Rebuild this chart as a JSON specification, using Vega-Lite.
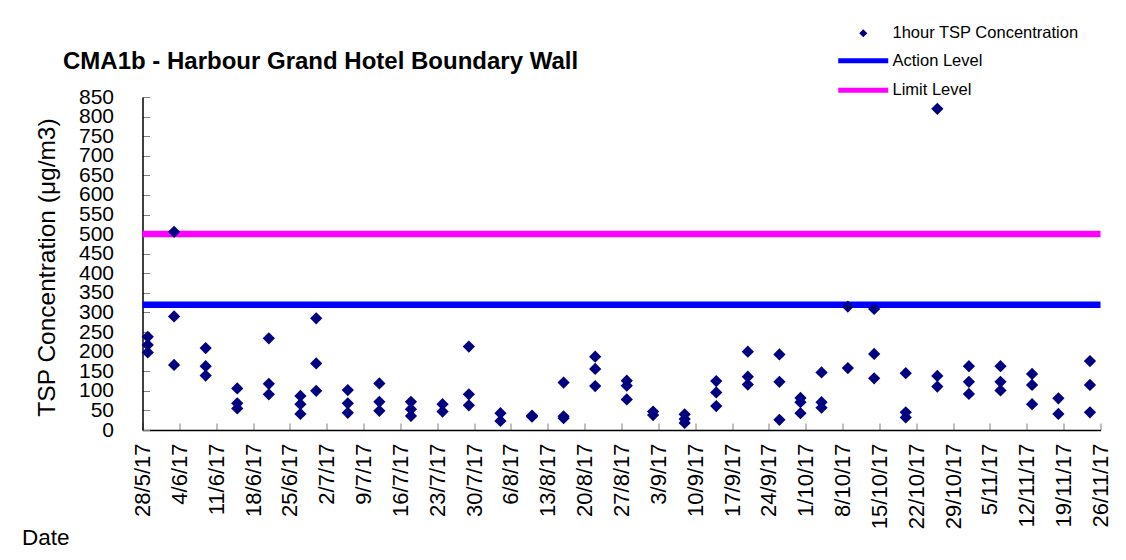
{
  "$schema": "https://vega.github.io/schema/vega-lite/v6.json",
  "width": 958,
  "height": 333,
  "autosize": "none",
  "padding": {"left": 142.5, "top": 97, "right": 25.5, "bottom": 130},
  "background": "white",
  "config": {"view": {"stroke": null}, "font": "Liberation Sans"},
  "title": {
    "text": "CMA1b - Harbour Grand Hotel Boundary Wall",
    "anchor": "start",
    "frame": "group",
    "dx": -79.5,
    "dy": 86,
    "fontSize": 24,
    "font": "Liberation Sans",
    "fontWeight": "bold",
    "color": "black",
    "baseline": "alphabetic",
    "offset": 18
  },
  "encoding": {
    "y": {
      "field": "value",
      "type": "quantitative",
      "scale": {"domain": [0, 850], "nice": false},
      "axis": {
        "values": [0, 50, 100, 150, 200, 250, 300, 350, 400, 450, 500, 550, 600, 650, 700, 750, 800, 850],
        "labelFontSize": 21,
        "labelFont": "Liberation Sans",
        "labelColor": "black",
        "labelPadding": 36,
        "labelOverlap": false,
        "labelFlush": false,
        "tickSize": -7,
        "tickColor": "#808080",
        "domainColor": "black",
        "domainWidth": 1.5,
        "grid": false,
        "title": "TSP Concentration (μg/m3)",
        "titleFont": "Liberation Sans",
        "titleFontSize": 24.5,
        "titleFontWeight": "normal",
        "titleColor": "black",
        "titleAngle": -90,
        "titleAlign": "center",
        "titleBaseline": "middle",
        "titleX": -95,
        "titleY": 170
      }
    },
    "color": {
      "field": "series",
      "type": "nominal",
      "scale": {
        "domain": ["1hour TSP Concentration", "Action Level", "Limit Level"],
        "range": ["#000080", "#0000FF", "#FF00FF"]
      },
      "legend": {
        "orient": "none",
        "legendX": 712.5,
        "legendY": -72,
        "title": null,
        "padding": 0,
        "labelFontSize": 16.5,
        "labelFont": "Liberation Sans",
        "labelColor": "black",
        "labelLimit": 400,
        "labelOffset": 21,
        "symbolSize": 400,
        "symbolType": "M-2.5,0H2.5",
        "symbolStrokeWidth": 5,
        "rowPadding": 8.5,
        "encode": {
          "symbols": {
            "update": {
              "shape": {"signal": "datum.value === '1hour TSP Concentration' ? 'diamond' : 'M-2.5,0H2.5'"},
              "size": {"signal": "datum.value === '1hour TSP Concentration' ? 64 : 400"},
              "fill": {"signal": "scale('color', datum.value)"},
              "stroke": {"signal": "scale('color', datum.value)"},
              "strokeWidth": {"signal": "datum.value === '1hour TSP Concentration' ? 0 : 5"},
              "opacity": {"value": 1},
              "fillOpacity": {"value": 1},
              "strokeOpacity": {"value": 1}
            }
          }
        }
      }
    }
  },
  "layer": [
    {
      "data": {"values": [
        {"series": "Action Level", "value": 320},
        {"series": "Limit Level", "value": 500}
      ]},
      "mark": {"type": "rule", "strokeWidth": 6.5},
      "encoding": {}
    },
    {
      "data": {"values": [
        {"date": "2017-05-29T00:00:00", "value": 238, "series": "1hour TSP Concentration"},
        {"date": "2017-05-29T00:00:00", "value": 217, "series": "1hour TSP Concentration"},
        {"date": "2017-05-29T00:00:00", "value": 198, "series": "1hour TSP Concentration"},
        {"date": "2017-06-03T00:00:00", "value": 506, "series": "1hour TSP Concentration"},
        {"date": "2017-06-03T00:00:00", "value": 290, "series": "1hour TSP Concentration"},
        {"date": "2017-06-03T00:00:00", "value": 166, "series": "1hour TSP Concentration"},
        {"date": "2017-06-09T00:00:00", "value": 209, "series": "1hour TSP Concentration"},
        {"date": "2017-06-09T00:00:00", "value": 163, "series": "1hour TSP Concentration"},
        {"date": "2017-06-09T00:00:00", "value": 139, "series": "1hour TSP Concentration"},
        {"date": "2017-06-15T00:00:00", "value": 106, "series": "1hour TSP Concentration"},
        {"date": "2017-06-15T00:00:00", "value": 68, "series": "1hour TSP Concentration"},
        {"date": "2017-06-15T00:00:00", "value": 55, "series": "1hour TSP Concentration"},
        {"date": "2017-06-21T00:00:00", "value": 234, "series": "1hour TSP Concentration"},
        {"date": "2017-06-21T00:00:00", "value": 118, "series": "1hour TSP Concentration"},
        {"date": "2017-06-21T00:00:00", "value": 91, "series": "1hour TSP Concentration"},
        {"date": "2017-06-27T00:00:00", "value": 87, "series": "1hour TSP Concentration"},
        {"date": "2017-06-27T00:00:00", "value": 66, "series": "1hour TSP Concentration"},
        {"date": "2017-06-27T00:00:00", "value": 41, "series": "1hour TSP Concentration"},
        {"date": "2017-06-30T00:00:00", "value": 285, "series": "1hour TSP Concentration"},
        {"date": "2017-06-30T00:00:00", "value": 170, "series": "1hour TSP Concentration"},
        {"date": "2017-06-30T00:00:00", "value": 100, "series": "1hour TSP Concentration"},
        {"date": "2017-07-06T00:00:00", "value": 102, "series": "1hour TSP Concentration"},
        {"date": "2017-07-06T00:00:00", "value": 68, "series": "1hour TSP Concentration"},
        {"date": "2017-07-06T00:00:00", "value": 44, "series": "1hour TSP Concentration"},
        {"date": "2017-07-12T00:00:00", "value": 119, "series": "1hour TSP Concentration"},
        {"date": "2017-07-12T00:00:00", "value": 72, "series": "1hour TSP Concentration"},
        {"date": "2017-07-12T00:00:00", "value": 49, "series": "1hour TSP Concentration"},
        {"date": "2017-07-18T00:00:00", "value": 72, "series": "1hour TSP Concentration"},
        {"date": "2017-07-18T00:00:00", "value": 53, "series": "1hour TSP Concentration"},
        {"date": "2017-07-18T00:00:00", "value": 36, "series": "1hour TSP Concentration"},
        {"date": "2017-07-24T00:00:00", "value": 66, "series": "1hour TSP Concentration"},
        {"date": "2017-07-24T00:00:00", "value": 47, "series": "1hour TSP Concentration"},
        {"date": "2017-07-29T00:00:00", "value": 213, "series": "1hour TSP Concentration"},
        {"date": "2017-07-29T00:00:00", "value": 91, "series": "1hour TSP Concentration"},
        {"date": "2017-07-29T00:00:00", "value": 63, "series": "1hour TSP Concentration"},
        {"date": "2017-08-04T00:00:00", "value": 43, "series": "1hour TSP Concentration"},
        {"date": "2017-08-04T00:00:00", "value": 23, "series": "1hour TSP Concentration"},
        {"date": "2017-08-10T00:00:00", "value": 37, "series": "1hour TSP Concentration"},
        {"date": "2017-08-10T00:00:00", "value": 34, "series": "1hour TSP Concentration"},
        {"date": "2017-08-16T00:00:00", "value": 121, "series": "1hour TSP Concentration"},
        {"date": "2017-08-16T00:00:00", "value": 35, "series": "1hour TSP Concentration"},
        {"date": "2017-08-16T00:00:00", "value": 30, "series": "1hour TSP Concentration"},
        {"date": "2017-08-22T00:00:00", "value": 187, "series": "1hour TSP Concentration"},
        {"date": "2017-08-22T00:00:00", "value": 156, "series": "1hour TSP Concentration"},
        {"date": "2017-08-22T00:00:00", "value": 112, "series": "1hour TSP Concentration"},
        {"date": "2017-08-28T00:00:00", "value": 126, "series": "1hour TSP Concentration"},
        {"date": "2017-08-28T00:00:00", "value": 113, "series": "1hour TSP Concentration"},
        {"date": "2017-08-28T00:00:00", "value": 78, "series": "1hour TSP Concentration"},
        {"date": "2017-09-02T00:00:00", "value": 47, "series": "1hour TSP Concentration"},
        {"date": "2017-09-02T00:00:00", "value": 38, "series": "1hour TSP Concentration"},
        {"date": "2017-09-08T00:00:00", "value": 40, "series": "1hour TSP Concentration"},
        {"date": "2017-09-08T00:00:00", "value": 28, "series": "1hour TSP Concentration"},
        {"date": "2017-09-08T00:00:00", "value": 18, "series": "1hour TSP Concentration"},
        {"date": "2017-09-14T00:00:00", "value": 125, "series": "1hour TSP Concentration"},
        {"date": "2017-09-14T00:00:00", "value": 96, "series": "1hour TSP Concentration"},
        {"date": "2017-09-14T00:00:00", "value": 61, "series": "1hour TSP Concentration"},
        {"date": "2017-09-20T00:00:00", "value": 200, "series": "1hour TSP Concentration"},
        {"date": "2017-09-20T00:00:00", "value": 136, "series": "1hour TSP Concentration"},
        {"date": "2017-09-20T00:00:00", "value": 116, "series": "1hour TSP Concentration"},
        {"date": "2017-09-26T00:00:00", "value": 193, "series": "1hour TSP Concentration"},
        {"date": "2017-09-26T00:00:00", "value": 123, "series": "1hour TSP Concentration"},
        {"date": "2017-09-26T00:00:00", "value": 26, "series": "1hour TSP Concentration"},
        {"date": "2017-09-30T00:00:00", "value": 82, "series": "1hour TSP Concentration"},
        {"date": "2017-09-30T00:00:00", "value": 71, "series": "1hour TSP Concentration"},
        {"date": "2017-09-30T00:00:00", "value": 43, "series": "1hour TSP Concentration"},
        {"date": "2017-10-04T00:00:00", "value": 147, "series": "1hour TSP Concentration"},
        {"date": "2017-10-04T00:00:00", "value": 71, "series": "1hour TSP Concentration"},
        {"date": "2017-10-04T00:00:00", "value": 57, "series": "1hour TSP Concentration"},
        {"date": "2017-10-09T00:00:00", "value": 315, "series": "1hour TSP Concentration"},
        {"date": "2017-10-09T00:00:00", "value": 158, "series": "1hour TSP Concentration"},
        {"date": "2017-10-14T00:00:00", "value": 309, "series": "1hour TSP Concentration"},
        {"date": "2017-10-14T00:00:00", "value": 194, "series": "1hour TSP Concentration"},
        {"date": "2017-10-14T00:00:00", "value": 132, "series": "1hour TSP Concentration"},
        {"date": "2017-10-20T00:00:00", "value": 145, "series": "1hour TSP Concentration"},
        {"date": "2017-10-20T00:00:00", "value": 45, "series": "1hour TSP Concentration"},
        {"date": "2017-10-20T00:00:00", "value": 32, "series": "1hour TSP Concentration"},
        {"date": "2017-10-26T00:00:00", "value": 820, "series": "1hour TSP Concentration"},
        {"date": "2017-10-26T00:00:00", "value": 138, "series": "1hour TSP Concentration"},
        {"date": "2017-10-26T00:00:00", "value": 111, "series": "1hour TSP Concentration"},
        {"date": "2017-11-01T00:00:00", "value": 163, "series": "1hour TSP Concentration"},
        {"date": "2017-11-01T00:00:00", "value": 123, "series": "1hour TSP Concentration"},
        {"date": "2017-11-01T00:00:00", "value": 92, "series": "1hour TSP Concentration"},
        {"date": "2017-11-07T00:00:00", "value": 163, "series": "1hour TSP Concentration"},
        {"date": "2017-11-07T00:00:00", "value": 123, "series": "1hour TSP Concentration"},
        {"date": "2017-11-07T00:00:00", "value": 101, "series": "1hour TSP Concentration"},
        {"date": "2017-11-13T00:00:00", "value": 143, "series": "1hour TSP Concentration"},
        {"date": "2017-11-13T00:00:00", "value": 115, "series": "1hour TSP Concentration"},
        {"date": "2017-11-13T00:00:00", "value": 66, "series": "1hour TSP Concentration"},
        {"date": "2017-11-18T00:00:00", "value": 81, "series": "1hour TSP Concentration"},
        {"date": "2017-11-18T00:00:00", "value": 41, "series": "1hour TSP Concentration"},
        {"date": "2017-11-24T00:00:00", "value": 176, "series": "1hour TSP Concentration"},
        {"date": "2017-11-24T00:00:00", "value": 115, "series": "1hour TSP Concentration"},
        {"date": "2017-11-24T00:00:00", "value": 45, "series": "1hour TSP Concentration"}
      ]},
      "mark": {"type": "point", "shape": "diamond", "filled": true, "size": 150, "opacity": 1},
      "encoding": {
        "x": {
          "field": "date",
          "type": "temporal",
          "scale": {"domain": [{"year": 2017, "month": 5, "date": 28}, {"year": 2017, "month": 11, "date": 26}], "nice": false},
          "axis": {
            "values": [
              {"year": 2017, "month": 5, "date": 28},
              {"year": 2017, "month": 6, "date": 4},
              {"year": 2017, "month": 6, "date": 11},
              {"year": 2017, "month": 6, "date": 18},
              {"year": 2017, "month": 6, "date": 25},
              {"year": 2017, "month": 7, "date": 2},
              {"year": 2017, "month": 7, "date": 9},
              {"year": 2017, "month": 7, "date": 16},
              {"year": 2017, "month": 7, "date": 23},
              {"year": 2017, "month": 7, "date": 30},
              {"year": 2017, "month": 8, "date": 6},
              {"year": 2017, "month": 8, "date": 13},
              {"year": 2017, "month": 8, "date": 20},
              {"year": 2017, "month": 8, "date": 27},
              {"year": 2017, "month": 9, "date": 3},
              {"year": 2017, "month": 9, "date": 10},
              {"year": 2017, "month": 9, "date": 17},
              {"year": 2017, "month": 9, "date": 24},
              {"year": 2017, "month": 10, "date": 1},
              {"year": 2017, "month": 10, "date": 8},
              {"year": 2017, "month": 10, "date": 15},
              {"year": 2017, "month": 10, "date": 22},
              {"year": 2017, "month": 10, "date": 29},
              {"year": 2017, "month": 11, "date": 5},
              {"year": 2017, "month": 11, "date": 12},
              {"year": 2017, "month": 11, "date": 19},
              {"year": 2017, "month": 11, "date": 26}
            ],
            "format": "%-d/%-m/%y",
            "labelAngle": 270,
            "labelAlign": "right",
            "labelBaseline": "middle",
            "labelFontSize": 22,
            "labelFont": "Liberation Sans",
            "labelColor": "black",
            "labelPadding": 20,
            "labelOverlap": false,
            "labelFlush": false,
            "tickSize": -7,
            "tickColor": "#808080",
            "domainColor": "black",
            "domainWidth": 1.5,
            "grid": false,
            "title": "Date",
            "titleFont": "Liberation Sans",
            "titleFontSize": 22.5,
            "titleFontWeight": "normal",
            "titleColor": "black",
            "titleAlign": "left",
            "titleBaseline": "alphabetic",
            "titleAnchor": "start",
            "titleX": -121,
            "titleY": 114
          }
        }
      }
    }
  ]
}
